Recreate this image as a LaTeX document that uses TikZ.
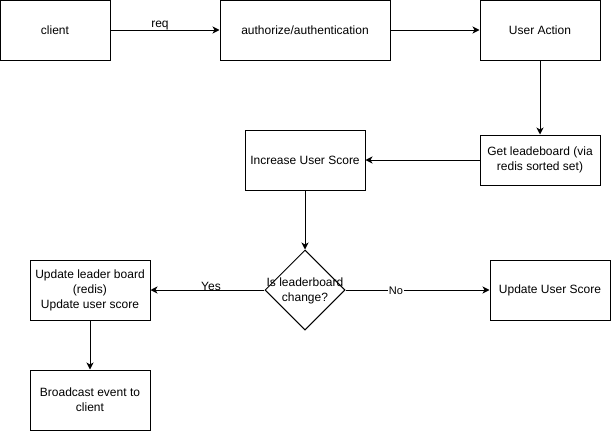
\documentclass[tikz,border=0pt]{standalone}
\usepackage{fontspec}
\setmainfont{Liberation Sans}
\usetikzlibrary{shapes.geometric,arrows.meta}
\begin{document}
\begin{tikzpicture}[x=1pt,y=-1pt,
  box/.style={draw, line width=1pt, minimum width=#1, align=center, inner sep=0pt, font=\fontsize{12}{15}\selectfont},
  box/.default=120pt,
  conn/.style={line width=1pt, -{Stealth[length=7pt,width=7pt,inset=2pt]}},
  lbl/.style={font=\fontsize{12}{15}\selectfont, inner sep=1pt}]
\useasboundingbox (0,0) rectangle (611,431);
\node[box=110pt, minimum height=60pt] (client) at (55,30) {client};
\node[box=170pt, minimum height=60pt] (auth) at (305,30) {authorize/authentication};
\node[box, minimum height=60pt] (ua) at (540,30) {User Action};
\node[box, minimum height=50pt] (get) at (540,160) {Get leadeboard (via\\redis sorted set)};
\node[box, minimum height=60pt] (inc) at (305,160) {Increase User Score};
\node[draw, line width=1pt, diamond, minimum width=80pt, minimum height=80pt, inner sep=0pt] (d) at (305,290) {};
\node[lbl, align=center] (dtext) at ([yshift=-1pt]d.center) {Is leaderboard\\change?};
\node[box, minimum height=60pt] (ulb) at (90,290) {Update leader board\\(redis)\\Update user score};
\node[box, minimum height=60pt] (uus) at (550,290) {Update User Score};
\node[box, minimum height=60pt] (bc) at (90,400) {Broadcast event to\\client};

\draw[conn] (client) -- (auth);
\node[lbl] (req) at (160,26) {req};
\draw[conn] (auth) -- (ua);
\draw[conn] (ua) -- (get);
\draw[conn] (get) -- (inc);
\draw[conn] (inc) -- (d);
\draw[conn] (d) -- (ulb);
\node[lbl] (yes) at (211,286) {Yes};
\draw[conn] (d) -- (uus);
\node[lbl, fill=white, font=\fontsize{11}{13}\selectfont] (no) at (396,291) {No};
\draw[conn] (ulb) -- (bc);
\end{tikzpicture}
\end{document}
